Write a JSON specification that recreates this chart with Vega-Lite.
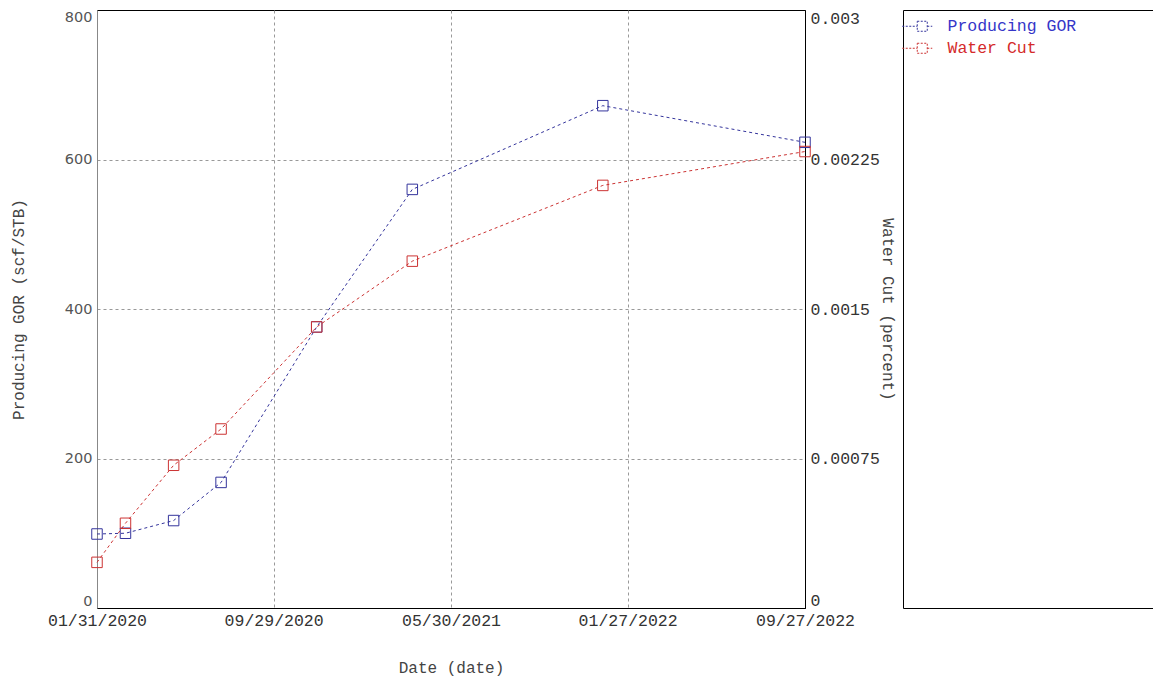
{
  "$schema": "https://vega.github.io/schema/vega-lite/v6.json",
  "padding": {"left": 9, "top": 8, "right": 0, "bottom": 0},
  "background": "white",
  "bounds": "flush",
  "spacing": 98,
  "datasets": {
    "wells": [
      {"date": "2020-01-31T00:00:00", "gor": 99, "wc": 0.000229},
      {"date": "2020-03-10T00:00:00", "gor": 100, "wc": 0.000425},
      {"date": "2020-05-15T00:00:00", "gor": 117, "wc": 0.000716},
      {"date": "2020-07-19T00:00:00", "gor": 168, "wc": 0.000898},
      {"date": "2020-11-27T00:00:00", "gor": 376, "wc": 0.00141},
      {"date": "2021-04-07T00:00:00", "gor": 560, "wc": 0.00174},
      {"date": "2021-12-24T00:00:00", "gor": 672, "wc": 0.00212},
      {"date": "2022-09-27T00:00:00", "gor": 623, "wc": 0.00229}
    ],
    "series": [
      {"series": "Producing GOR"},
      {"series": "Water Cut"}
    ]
  },
  "hconcat": [
    {
      "width": 708,
      "height": 598,
      "data": {"name": "wells"},
      "encoding": {
        "x": {
          "field": "date",
          "type": "temporal",
          "scale": {
            "domain": [{"year": 2020, "month": 1, "date": 31}, {"year": 2022, "month": 9, "date": 27}],
            "nice": false
          },
          "axis": {
            "title": "Date (date)",
            "values": [
              {"year": 2020, "month": 1, "date": 31},
              {"year": 2020, "month": 9, "date": 29},
              {"year": 2021, "month": 5, "date": 30},
              {"year": 2022, "month": 1, "date": 27},
              {"year": 2022, "month": 9, "date": 27}
            ],
            "format": "%m/%d/%Y",
            "labelFlush": false,
            "labelOverlap": false,
            "labelPadding": 4,
            "ticks": false,
            "titlePadding": 31,
            "grid": true,
            "gridOpacity": {"condition": {"test": "datum.index == 0 || datum.index == 1", "value": 0}, "value": 1},
            "domainColor": "#000000"
          }
        }
      },
      "layer": [
        {
          "encoding": {
            "y": {
              "field": "gor",
              "type": "quantitative",
              "scale": {"domain": [0, 800], "nice": false},
              "axis": {
                "title": "Producing GOR (scf/STB)",
                "values": [0, 200, 400, 600, 800],
                "labelFont": "DejaVu Sans",
                "labelFontSize": 14.5,
                "labelColor": "#555555",
                "labelFlush": true,
                "labelPadding": 5,
                "ticks": false,
                "domainColor": "#888888",
                "titlePadding": 38,
                "grid": true,
                "gridOpacity": {"condition": {"test": "datum.index == 0 || datum.index == 1", "value": 0}, "value": 1}
              }
            }
          },
          "layer": [
            {"mark": {"type": "line", "color": "#34349c", "strokeDash": [3, 3], "strokeWidth": 1}},
            {"mark": {"type": "point", "shape": "square", "size": 110, "color": "#34349c", "filled": false, "strokeWidth": 1, "opacity": 1}}
          ]
        },
        {
          "encoding": {
            "y": {
              "field": "wc",
              "type": "quantitative",
              "scale": {"domain": [0, 0.003], "nice": false},
              "axis": {
                "orient": "right",
                "title": "Water Cut (percent)",
                "values": [0, 0.00075, 0.0015, 0.00225, 0.003],
                "format": ".5~f",
                "labelFlush": true,
                "labelPadding": 5,
                "ticks": false,
                "grid": false,
                "titlePadding": 0,
                "domainColor": "#000000"
              }
            }
          },
          "layer": [
            {"mark": {"type": "line", "color": "#cc3333", "strokeDash": [3, 3], "strokeWidth": 1}},
            {"mark": {"type": "point", "shape": "square", "size": 110, "color": "#cc3333", "filled": false, "strokeWidth": 1, "opacity": 1}}
          ]
        }
      ],
      "resolve": {"scale": {"y": "independent"}}
    },
    {
      "width": 250,
      "height": 598,
      "view": {"stroke": "#000000", "strokeWidth": 1, "fill": "white"},
      "data": {"name": "series"},
      "mark": {"type": "point", "opacity": 0},
      "encoding": {
        "color": {
          "field": "series",
          "type": "nominal",
          "scale": {"domain": ["Producing GOR", "Water Cut"], "range": ["#34349c", "#cc3333"]},
          "legend": {
            "title": null,
            "orient": "none",
            "legendX": 11,
            "legendY": 8,
            "padding": 0,
            "symbolType": "M-4,0H-1M1,0H2M-1,-1H1V1H-1Z",
            "symbolSize": 100,
            "symbolStrokeWidth": 1,
            "symbolFillColor": "transparent",
            "symbolOpacity": 1,
            "symbolDash": [2, 1.5],
            "labelFont": "Liberation Mono",
            "labelFontSize": 16.5,
            "labelOffset": 17,
            "labelLimit": 300,
            "rowPadding": 5,
            "labelColor": {"expr": "datum.value === 'Producing GOR' ? '#3535c8' : '#d42a2a'"}
          }
        }
      }
    }
  ],
  "resolve": {"scale": {"color": "independent"}, "legend": {"color": "independent"}},
  "config": {
    "view": {"stroke": "#000000", "strokeWidth": 1},
    "axis": {
      "gridColor": "#999999",
      "gridDash": [3, 3],
      "gridWidth": 1,
      "labelFont": "Liberation Mono",
      "labelFontSize": 16.5,
      "labelColor": "#333333",
      "titleFont": "Liberation Mono",
      "titleFontSize": 16,
      "titleFontWeight": "normal",
      "titleColor": "#444444"
    }
  }
}
